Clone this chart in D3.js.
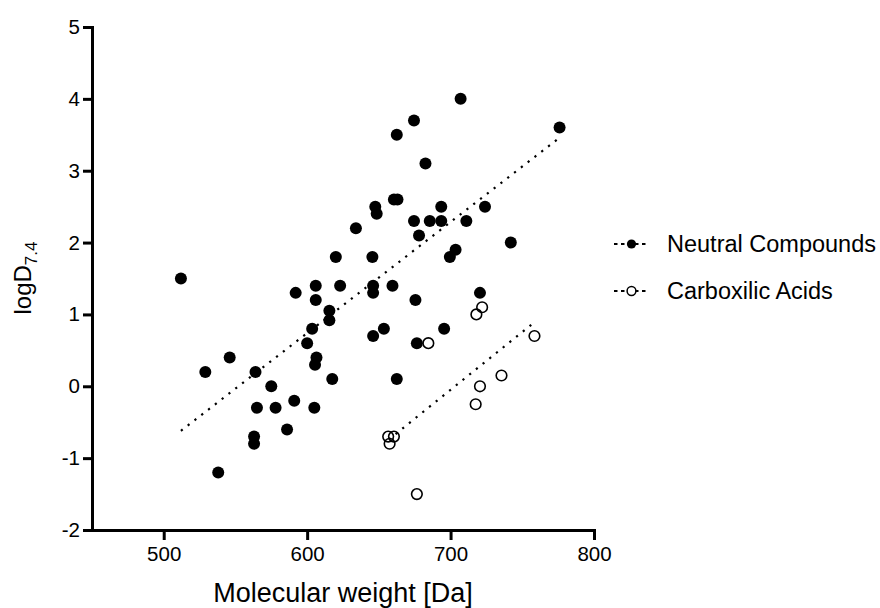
<!DOCTYPE html>
<html>
<head>
<meta charset="utf-8">
<script src="https://cdn.jsdelivr.net/npm/d3@7"></script>
<style>
  body { margin: 0; background: #fff; }
  svg { display: block; font-family: Arial, "Liberation Sans", Helvetica, sans-serif; }
</style>
</head>
<body>
<svg id="chart" width="880" height="608"></svg>
<script>
// neutral compounds (filled)
const neutralMW = [512, 529, 546, 538, 564, 565, 578, 563, 563, 575, 586, 591, 592, 605, 606, 606, 603.5, 600,
    606.5, 605.5, 617.5, 615.5, 615.5, 620, 623, 634, 645.5, 646, 646, 647.5, 648.5, 646, 653.5, 659.5,
    660.5, 663, 662.5, 662.5, 674.5, 674.5, 675.5, 676.5, 678, 682.5, 685.5, 693.5, 693.5, 695.5, 699.5,
    703.5, 707, 711, 720.5, 724, 742, 776];
const neutralLogD = [1.5, 0.2, 0.4, -1.2, 0.2, -0.3, -0.3, -0.7, -0.8, 0.0, -0.6, -0.2, 1.3, -0.3, 1.4, 1.2, 0.8, 0.6,
    0.4, 0.3, 0.1, 1.05, 0.92, 1.8, 1.4, 2.2, 1.8, 1.4, 1.3, 2.5, 2.4, 0.7, 0.8, 1.4,
    2.6, 2.6, 3.5, 0.1, 3.7, 2.3, 1.2, 0.6, 2.1, 3.1, 2.3, 2.5, 2.3, 0.8, 1.8,
    1.9, 4.0, 2.3, 1.3, 2.5, 2.0, 3.6];

// carboxilic acids (open)
const acidMW = [722, 718, 684.5, 758.5, 735.5, 720.5, 717.5, 656.5, 660.5, 657.5, 676.5];
const acidLogD = [1.1, 1.0, 0.6, 0.7, 0.15, 0.0, -0.25, -0.7, -0.7, -0.8, -1.5];

// fitted lines
const neutralFitMW = [512, 776];
const neutralFitLogD = [-0.62, 3.46];
const acidFitMW = [657, 759];
const acidFitLogD = [-0.74, 0.9];

const xTicks = [500, 600, 700, 800];
const yTicks = [-2, -1, 0, 1, 2, 3, 4, 5];
const seriesNames = ["Neutral Compounds", "Carboxilic Acids"];

const svg = d3.select("#chart");
svg.append("rect").attr("width", 880).attr("height", 608).attr("fill", "#fff");

const x = d3.scaleLinear().domain([450, 800]).range([92, 594]);
const y = d3.scaleLinear().domain([-2, 5]).range([530, 27]);
const plain = function(d){ return String(d); };

// axes
let gy = svg.append("g").attr("transform", "translate(92,0)")
    .call(d3.axisLeft(y).tickValues(yTicks).tickFormat(plain).tickSize(9).tickSizeOuter(0).tickPadding(3));
let gx = svg.append("g").attr("transform", "translate(0,530)")
    .call(d3.axisBottom(x).tickValues(xTicks).tickFormat(plain).tickSize(10).tickSizeOuter(0).tickPadding(6.5));
[gx, gy].forEach(function(g){
    g.select(".domain").attr("stroke", "#000").attr("stroke-width", 3).attr("stroke-linecap", "square");
    g.selectAll(".tick line").attr("stroke", "#000").attr("stroke-width", 3);
    g.selectAll(".tick text").attr("fill", "#000").style("font-size", "20.5px")
        .style("font-family", "Arial, 'Liberation Sans', Helvetica, sans-serif");
});

// axis titles
svg.append("text").attr("x", 343).attr("y", 602).attr("text-anchor", "middle")
    .style("font-size", "27px").text("Molecular weight [Da]");
let yt = svg.append("text").attr("transform", "translate(31,278) rotate(-90)").attr("text-anchor", "middle")
    .style("font-size", "24px");
yt.append("tspan").text("logD");
yt.append("tspan").attr("dy", 6).style("font-size", "17px").text("7.4");

// fit lines
function fitLine(xs, ys){
    return xs.map(function(v, i){ return [x(v), y(ys[i])]; });
}
svg.selectAll(".fit")
    .data([fitLine(neutralFitMW, neutralFitLogD), fitLine(acidFitMW, acidFitLogD)])
    .enter().append("path").attr("class", "fit")
    .attr("d", d3.line())
    .attr("fill", "none").attr("stroke", "#000").attr("stroke-width", 2.2)
    .attr("stroke-dasharray", "2.2,6.4");

// points
svg.append("g").selectAll("circle")
    .data(neutralMW.map(function(v, i){ return {mw: v, d: neutralLogD[i]}; }))
    .enter().append("circle")
    .attr("cx", function(d){ return x(d.mw); })
    .attr("cy", function(d){ return y(d.d); })
    .attr("r", 6).attr("fill", "#000");

svg.append("g").selectAll("circle")
    .data(acidMW.map(function(v, i){ return {mw: v, d: acidLogD[i]}; }))
    .enter().append("circle")
    .attr("cx", function(d){ return x(d.mw); })
    .attr("cy", function(d){ return y(d.d); })
    .attr("r", 5.3).attr("fill", "none").attr("stroke", "#000").attr("stroke-width", 1.6);

// legend
let legend = svg.append("g").selectAll("g")
    .data(seriesNames).enter().append("g")
    .attr("transform", function(d, i){ return "translate(0," + (244 + i * 47) + ")"; });
legend.append("line").attr("x1", 614).attr("x2", 646).attr("y1", 0).attr("y2", 0)
    .attr("stroke", "#000").attr("stroke-width", 2).attr("stroke-dasharray", "3.5,3.5");
legend.append("circle").attr("cx", 631.5).attr("cy", 0).attr("r", function(d, i){ return i == 0 ? 4.6 : 4.4; })
    .attr("fill", function(d, i){ return i == 0 ? "#000" : "#fff"; })
    .attr("stroke", "#000").attr("stroke-width", function(d, i){ return i == 0 ? 0 : 1.5; });
legend.append("text").attr("x", 667).attr("y", 8).style("font-size", "23.5px").text(function(d){ return d; });
</script>
</body>
</html>
